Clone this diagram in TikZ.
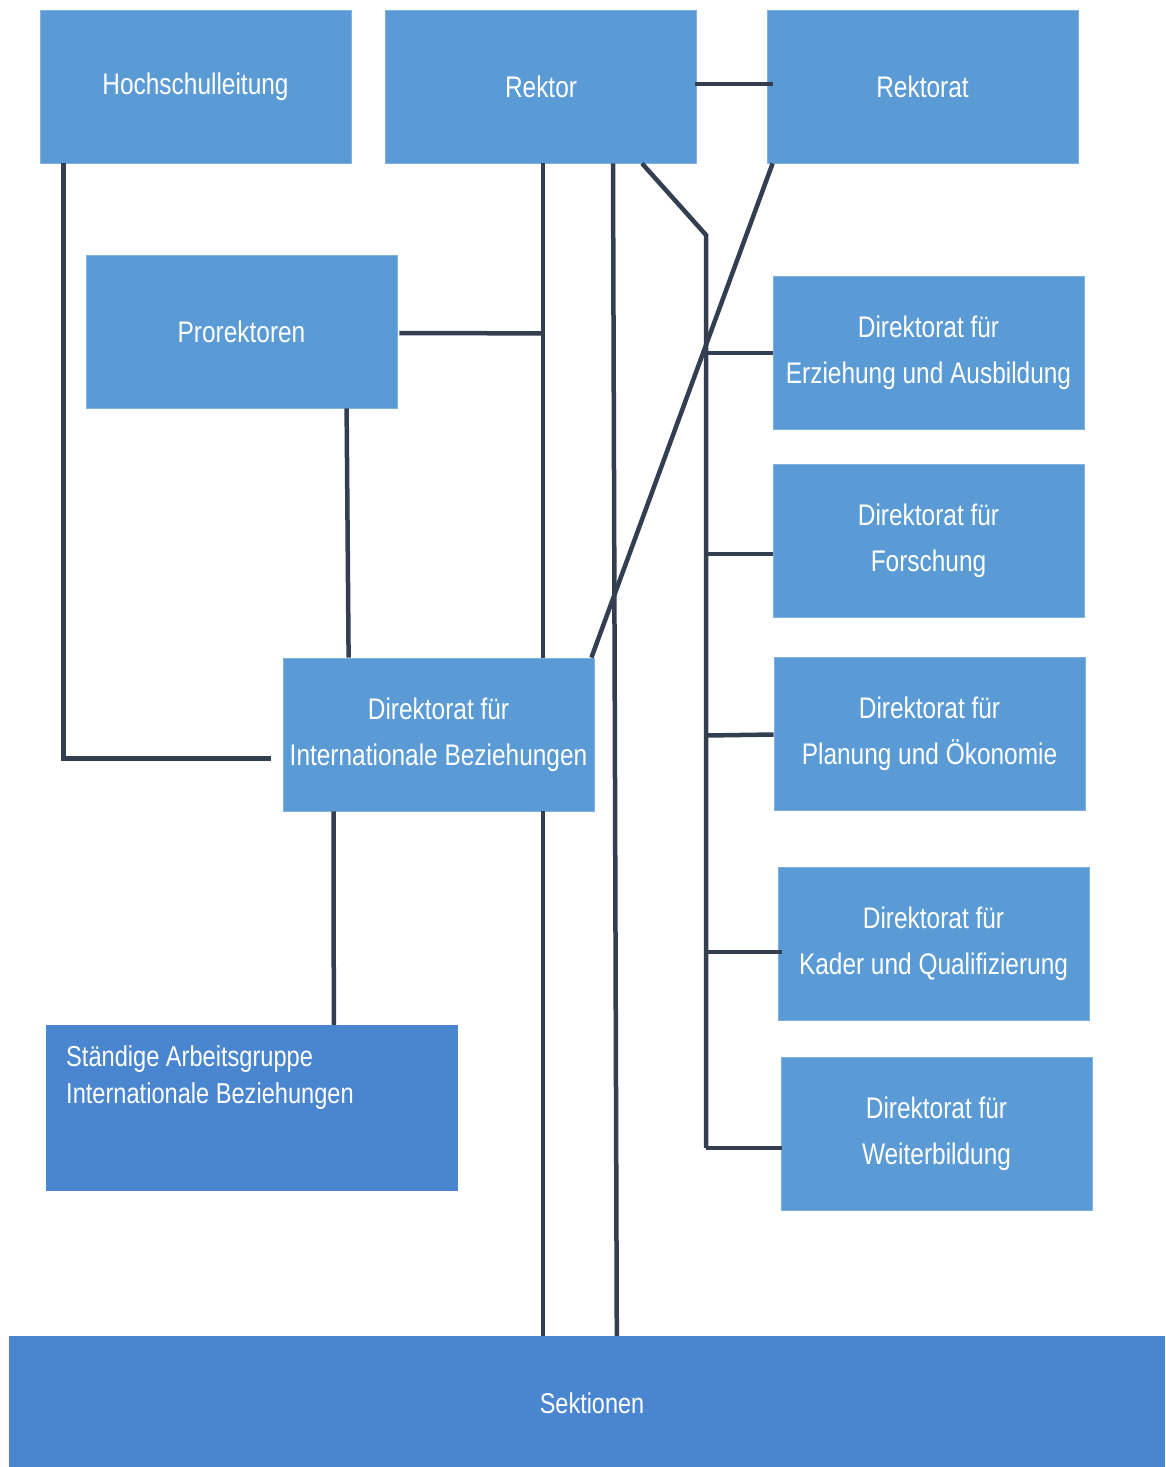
\documentclass[tikz,border=0pt]{standalone}
\usepackage{fontspec}
\setmainfont[FakeStretch=0.82]{Liberation Sans}
\usetikzlibrary{calc}
\definecolor{boxlight}{HTML}{5B9BD5}
\definecolor{boxedge}{HTML}{7FB2E2}
\definecolor{boxdark}{HTML}{4A86CF}
\definecolor{linecol}{HTML}{333F50}
\tikzset{
  unit/.style={rectangle, fill=boxlight, draw=boxedge, line width=0.8pt,
    minimum width=311pt, minimum height=153pt, inner sep=0pt,
    text=white, align=center, font=\fontsize{29.8}{46}\selectfont},
  darkunit/.style={rectangle, fill=boxdark, inner sep=0pt, text=white},
  link/.style={draw=linecol, line width=4.5pt},
}
\begin{document}
\begin{tikzpicture}[x=1pt,y=-1pt]
\useasboundingbox (0,0) rectangle (1165,1467);
% boxes
\node[unit] (hl) at (195.5,86.5) {Hochschulleitung};
\node[unit] (rektor) at (541,86.5) {Rektor};
\node[unit] (rektorat) at (922.5,86.5) {Rektorat};
\node[unit] (pro) at (241.5,331.5) {Prorektoren};
\node[unit] (de1) at (928.5,353) {Direktorat für\\Erziehung und Ausbildung};
\node[unit] (de2) at (928.5,541) {Direktorat für\\Forschung};
\node[unit] (de3) at (929.5,733.5) {Direktorat für\\Planung und Ökonomie};
\node[unit] (de4) at (933.5,943.5) {Direktorat für\\Kader und Qualifizierung};
\node[unit] (de5) at (936.5,1133.5) {Direktorat für\\Weiterbildung};
\node[unit] (intl) at (438.5,734.5) {Direktorat für\\Internationale Beziehungen};
\node[darkunit, minimum width=412pt, minimum height=166pt] (ag) at (252,1108) {};
\node[anchor=north west, inner sep=0pt, text=white, align=left,
  font=\fontsize{28.8}{37}\selectfont] (agtext) at (66,1045)
  {Ständige Arbeitsgruppe\\Internationale Beziehungen};
\node[darkunit, minimum width=1156pt, minimum height=131pt] (sek) at (587,1401.5) {};
\node[inner sep=0pt, text=white, font=\fontsize{28.6}{32}\selectfont]
  (sektext) at (592,1403) {Sektionen};
% connectors
\draw[link] ($(rektor.east)+(-2,-2.5)$) -- ($(rektorat.west)+(6,-2.5)$);
\draw[link] ($(hl.south west)+(24,0)$) |- ($(intl.west)+(-12,24)$);
\draw[link] ($(rektor.south)+(2,0)$) coordinate (rv) -- (rv |- intl.north);
\draw[link] (rv |- intl.south) -- (rv |- sek.north);
\draw[link] ($(pro.east)+(2,1.5)$) -- ($(rv)+(0,170)$);
\draw[link] ($(pro.south west)+(261,0)$) -- ($(intl.north west)+(66,0)$);
\draw[link] ($(rektor.south)+(72,0)$) -- ($(sek.north west)+(608,0)$);
\draw[link] ($(rektor.south)+(101,0)$) -- (706,235) coordinate (bustop)
  -- (706,1148) coordinate (busbot);
\draw[link] (bustop |- de1.west) -- (de1.west);
\draw[link] ($(bustop |- de2.west)+(0,13)$) -- ($(de2.west)+(0,13)$);
\draw[link] ($(bustop |- de3.west)+(0,2)$) -- ($(de3.west)+(0,1)$);
\draw[link] ($(bustop |- de4.west)+(0,8.5)$) -- ($(de4.west)+(4,8.5)$);
\draw[link] (busbot) -- ($(de5.west)+(1,14.5)$);
\draw[link] ($(rektorat.south west)+(6,0)$) -- ($(intl.north east)+(-3,0)$);
\draw[link] ($(intl.south west)+(51,0)$) -- ($(ag.north west)+(288,0)$);
\end{tikzpicture}
\end{document}
